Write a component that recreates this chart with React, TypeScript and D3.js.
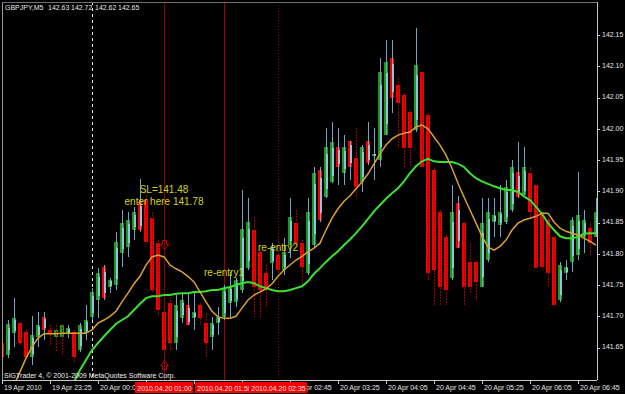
import React from 'react';
import * as d3 from 'd3';

// GBPJPY M5 bars, 19 Apr 2010 22:45 .. 20 Apr 2010 07:00
const opens = [
  141.657, 141.638, 141.673, 141.689, 141.675, 141.635, 141.667, 141.678, 141.678, 141.678,
  141.686, 141.672, 141.675, 141.646, 141.673, 141.699, 141.726, 141.729, 141.747, 141.750,
  141.801, 141.811, 141.838, 141.838, 141.886, 141.857, 141.817, 141.707, 141.721, 141.657,
  141.697, 141.686, 141.697, 141.718, 141.689, 141.667, 141.689, 141.699, 141.721, 141.723,
  141.742, 141.777, 141.838, 141.803, 141.769, 141.785, 141.798, 141.774, 141.814, 141.849,
  141.817, 141.769, 141.814, 141.854, 141.891, 141.915, 141.939, 141.929, 141.939, 141.953,
  141.915, 141.945, 141.956, 141.950, 141.990, 142.049, 142.070, 142.054, 142.027, 141.998,
  142.091, 142.022, 141.934, 141.867, 141.827, 141.761, 141.809, 141.849, 141.787, 141.787,
  141.747, 141.790, 141.851, 141.846, 141.851, 141.870, 141.891, 141.894, 141.929, 141.910,
  141.862, 141.854, 141.827, 141.726, 141.769, 141.787, 141.798, 141.827, 141.841, 141.827,
];
const highs = [
  141.662, 141.694, 141.729, 141.691, 141.678, 141.700, 141.707, 141.707, 141.686, 141.686,
  141.688, 141.686, 141.678, 141.689, 141.718, 141.745, 141.777, 141.782, 141.761, 141.835,
  141.870, 141.867, 141.875, 141.920, 141.894, 141.867, 141.822, 141.726, 141.731, 141.734,
  141.737, 141.737, 141.737, 141.721, 141.705, 141.699, 141.715, 141.750, 141.771, 141.761,
  141.902, 141.889, 141.859, 141.806, 141.782, 141.817, 141.825, 141.825, 141.889, 141.870,
  141.822, 141.889, 141.939, 141.939, 142.001, 142.011, 142.001, 141.990, 141.980, 142.001,
  141.974, 142.011, 142.001, 142.113, 142.142, 142.142, 142.081, 142.057, 142.030, 142.161,
  142.091, 142.025, 141.937, 141.870, 141.830, 141.910, 141.892, 141.851, 141.817, 141.790,
  141.889, 141.889, 141.889, 141.910, 141.918, 141.950, 141.979, 141.971, 141.939, 141.910,
  141.865, 141.857, 141.827, 141.787, 141.790, 141.859, 141.931, 141.870, 141.849, 141.889,
];
const lows = [
  141.627, 141.633, 141.651, 141.654, 141.630, 141.622, 141.651, 141.662, 141.654, 141.643,
  141.638, 141.665, 141.627, 141.643, 141.662, 141.694, 141.697, 141.726, 141.737, 141.742,
  141.779, 141.795, 141.822, 141.835, 141.816, 141.739, 141.700, 141.620, 141.646, 141.646,
  141.689, 141.686, 141.678, 141.686, 141.635, 141.646, 141.670, 141.694, 141.699, 141.715,
  141.737, 141.774, 141.699, 141.699, 141.715, 141.758, 141.769, 141.766, 141.793, 141.812,
  141.750, 141.766, 141.809, 141.851, 141.889, 141.913, 141.910, 141.910, 141.918, 141.889,
  141.899, 141.942, 141.918, 141.939, 141.990, 142.025, 141.969, 141.939, 141.939, 141.995,
  141.937, 141.758, 141.718, 141.718, 141.718, 141.758, 141.809, 141.718, 141.737, 141.726,
  141.747, 141.787, 141.827, 141.827, 141.848, 141.867, 141.889, 141.894, 141.857, 141.777,
  141.777, 141.747, 141.718, 141.723, 141.758, 141.771, 141.790, 141.801, 141.798, 141.827,
];
const closes = [
  141.635, 141.688, 141.697, 141.657, 141.635, 141.670, 141.686, 141.699, 141.672, 141.667,
  141.667, 141.681, 141.635, 141.686, 141.694, 141.739, 141.769, 141.779, 141.758, 141.819,
  141.849, 141.854, 141.867, 141.883, 141.819, 141.742, 141.710, 141.646, 141.657, 141.718,
  141.726, 141.718, 141.707, 141.697, 141.657, 141.689, 141.699, 141.745, 141.747, 141.758,
  141.840, 141.851, 141.747, 141.742, 141.747, 141.811, 141.774, 141.803, 141.859, 141.817,
  141.779, 141.867, 141.929, 141.934, 141.971, 141.979, 141.971, 141.971, 141.980, 141.907,
  141.971, 141.980, 141.960, 142.091, 142.107, 142.113, 142.041, 141.969, 141.969, 142.102,
  141.939, 141.769, 141.774, 141.747, 141.742, 141.867, 141.881, 141.747, 141.747, 141.755,
  141.849, 141.867, 141.862, 141.867, 141.907, 141.939, 141.931, 141.939, 141.867, 141.777,
  141.779, 141.769, 141.718, 141.782, 141.779, 141.854, 141.862, 141.854, 141.817, 141.867,
];
// Heiken Ashi colour per bar: g = up, r = down
const haColors = [
  'r','g','g','r','r','g','g','r','r','g',
  'g','g','r','g','g','g','g','r','g','g',
  'g','g','g','r','r','r','r','r','r','g',
  'g','r','g','r','r','g','g','g','g','g',
  'g','g','r','r','r','g','r','g','g','r',
  'r','g','g','r','g','g','r','g','r','r',
  'g','r','g','g','g','r','r','r','r','g',
  'r','r','r','r','r','g','r','r','r','r',
  'g','g','g','g','g','g','r','g','r','r',
  'r','r','r','g','g','g','g','g','r','g',
];
const maFast: (number | null)[] = [
  null, null, 141.590, 141.611, 141.633, 141.651, 141.665, 141.672, 141.672, 141.672,
  141.673, 141.673, 141.673, 141.673, 141.673, 141.678, 141.689, 141.694, 141.700, 141.708,
  141.723, 141.737, 141.752, 141.764, 141.782, 141.795, 141.798, 141.795, 141.782, 141.776,
  141.771, 141.764, 141.755, 141.739, 141.723, 141.708, 141.699, 141.697, 141.697, 141.700,
  141.713, 141.726, 141.734, 141.739, 141.744, 141.752, 141.764, 141.774, 141.782, 141.790,
  141.796, 141.803, 141.809, 141.817, 141.838, 141.857, 141.872, 141.884, 141.893, 141.904,
  141.915, 141.928, 141.944, 141.960, 141.974, 141.984, 141.990, 141.993, 141.995, 142.003,
  142.006, 142.000, 141.987, 141.974, 141.958, 141.937, 141.913, 141.891, 141.870, 141.849,
  141.828, 141.811, 141.806, 141.812, 141.822, 141.838, 141.849, 141.854, 141.857, 141.860,
  141.865, 141.865, 141.851, 141.841, 141.836, 141.833, 141.830, 141.825, 141.820, 141.814,
];
const maSlow: (number | null)[] = [
  null, null, null, null, null, null, null, null, null, null,
  null, 141.579, 141.595, 141.614, 141.630, 141.646, 141.657, 141.668, 141.678, 141.688,
  141.694, 141.700, 141.710, 141.720, 141.729, 141.732, 141.732, 141.734, 141.734, 141.736,
  141.737, 141.737, 141.739, 141.739, 141.740, 141.742, 141.742, 141.745, 141.747, 141.750,
  141.753, 141.755, 141.753, 141.748, 141.745, 141.742, 141.740, 141.740, 141.742, 141.745,
  141.748, 141.756, 141.768, 141.777, 141.787, 141.796, 141.804, 141.814, 141.823, 141.833,
  141.844, 141.856, 141.868, 141.878, 141.888, 141.897, 141.905, 141.916, 141.929, 141.940,
  141.948, 141.952, 141.948, 141.947, 141.947, 141.947, 141.944, 141.939, 141.929, 141.921,
  141.916, 141.912, 141.908, 141.905, 141.902, 141.902, 141.899, 141.892, 141.886, 141.875,
  141.864, 141.849, 141.838, 141.828, 141.825, 141.825, 141.827, 141.832, 141.833, 141.833,
];
const priceTicks = [141.65, 141.70, 141.75, 141.80, 141.85, 141.90, 141.95, 142.00, 142.05, 142.10, 142.15];
const timeTickBars = [0, 8, 16, 24, 32, 40, 48, 56, 64, 72, 80, 88, 96];
const timeTickLabels = [
  '19 Apr 2010', '19 Apr 23:25', '20 Apr 00:05', '', '', '',
  '20 Apr 02:45', '20 Apr 03:25', '20 Apr 04:05', '20 Apr 04:45', '20 Apr 05:25', '20 Apr 06:05', '20 Apr 06:45',
];
const markerBars = [27, 37, 46];
const markerLabels = ['2010.04.20 01:00', '2010.04.20 01:50', '2010.04.20 02:35'];
const daySeparatorBar = 15;
const noteTexts = ['SL=141.48', 'enter here 141.78', 're-entry1', 're-entry2'];
const noteBars = [27, 27, 37, 46];
const notePrices = [141.902, 141.883, 141.768, 141.808];
const arrowBar = 27;
const arrowDownPrice = 141.815;
const arrowUpPrice = 141.621;
const titleParts = ['GBPJPY,M5', '142.63', '142.72', '142.62', '142.65'];

const FONT = '"Liberation Sans", Arial, sans-serif';

export default function App() {
  const W = 625, H = 394;
  const L = 2, R = 597, T = 2, B = 380;
  const x = d3.scaleLinear().domain([0, 99]).range([2, 596]);
  const y = d3.scaleLinear().domain([141.598, 142.203]).range([B, T]);

  const lineGen = d3.line<number | null>()
    .defined((d) => d != null)
    .x((_, i) => x(i))
    .y((d) => y(d as number));

  const markerStyles = [
    { stroke: '#8c0000', dash: undefined },
    { stroke: '#a00000', dash: undefined },
    { stroke: '#c80000', dash: '1,2' },
  ];

  return (
    <svg width={W} height={H} style={{ position: 'absolute', left: 0, top: 0, background: '#000' }}
      fontFamily={FONT}>
      <defs>
        <clipPath id="plot"><rect x={L + 1} y={T + 1} width={R - L - 1} height={B - T - 1} /></clipPath>
      </defs>
      <rect x={0} y={0} width={W} height={H} fill="#000" />
      {/* frame */}
      <line x1={L + 0.5} x2={L + 0.5} y1={T} y2={B} stroke="#9a9a9a" />
      <line x1={L} x2={R} y1={T + 0.5} y2={T + 0.5} stroke="#707070" />

      <g clipPath="url(#plot)">
        {/* day separator */}
        <line x1={x(daySeparatorBar) + 0.5} x2={x(daySeparatorBar) + 0.5} y1={T} y2={B}
          stroke="#e8e8e8" strokeDasharray="3,3" />
        {/* vertical markers */}
        {markerBars.map((b, k) => (
          <line key={k} x1={x(b) + 0.5} x2={x(b) + 0.5} y1={T} y2={B}
            stroke={markerStyles[k].stroke} strokeDasharray={markerStyles[k].dash} />
        ))}

        {/* candles */}
        <g shapeRendering="crispEdges">
          {opens.map((o, i) => {
            const c = closes[i], h = highs[i], l = lows[i];
            const bull = c > o;
            const cx = x(i);
            const yTop = y(Math.max(o, c));
            const yBot = y(Math.min(o, c));
            const bh = Math.max(1, yBot - yTop);
            return (
              <g key={i}>
                <rect x={cx - 2} y={yTop} width={4} height={bh}
                  fill={haColors[i] === 'g' ? '#1f961f' : '#f00000'} />
                <line x1={cx + 0.5} x2={cx + 0.5} y1={y(h)} y2={y(l)}
                  stroke={bull ? '#6ea6c4' : '#a00000'} strokeWidth={1}
                  strokeDasharray={bull ? undefined : '2,1'} />
                {bull && (
                  <rect x={cx - 0.5} y={yTop + bh * 0.15} width={2} height={bh * 0.7} fill="#8cc6df" />
                )}
              </g>
            );
          })}
        </g>

        {/* moving averages */}
        <path d={lineGen(maSlow) || ''} fill="none" stroke="#3ce030" strokeWidth={2} />
        <path d={lineGen(maFast) || ''} fill="none" stroke="#daa030" strokeWidth={1.5} />

        {/* arrows */}
        {(() => {
          const ax = x(arrowBar) + 0.5;
          const yd = y(arrowDownPrice) - 4;
          const yu = y(arrowUpPrice) + 4;
          return (
            <g fill="none" stroke="#d00000" strokeWidth={1}>
              <path d={`M${ax - 2},${yd} L${ax + 2},${yd} L${ax + 2},${yd + 4} L${ax + 4},${yd + 4} L${ax},${yd + 9} L${ax - 4},${yd + 4} L${ax - 2},${yd + 4} Z`} />
              <path d={`M${ax - 2},${yu} L${ax + 2},${yu} L${ax + 2},${yu - 4} L${ax + 4},${yu - 4} L${ax},${yu - 9} L${ax - 4},${yu - 4} L${ax - 2},${yu - 4} Z`} />
            </g>
          );
        })()}

        {/* notes */}
        {noteTexts.map((t, k) => (
          <text key={k} x={x(noteBars[k])} y={y(notePrices[k])} fill="#d2d21e" fontSize={10}
            textAnchor="middle" dominantBaseline="middle">{t}</text>
        ))}
      </g>

      {/* title */}
      <text y={10} fontSize={7} fill="#e6e6e6">
        {titleParts.map((t, k) => (
          <tspan key={k} x={[5, 48, 71, 95, 118][k]}>{t}</tspan>
        ))}
      </text>
      <text x={4} y={378} fontSize={7} fill="#f0f0f0">SIGTrader 4, © 2001-2009 MetaQuotes Software Corp.</text>

      {/* price axis */}
      <line x1={R + 0.5} x2={R + 0.5} y1={T} y2={B} stroke="#c8c8c8" />
      {priceTicks.map((v) => (
        <g key={v}>
          <line x1={R} x2={R + 3} y1={Math.round(y(v)) + 0.5} y2={Math.round(y(v)) + 0.5} stroke="#c8c8c8" />
          <text x={602} y={y(v)} fontSize={7} fill="#e6e6e6" dominantBaseline="middle">{v.toFixed(2)}</text>
        </g>
      ))}

      {/* time axis */}
      <line x1={L} x2={R} y1={B + 0.5} y2={B + 0.5} stroke="#c8c8c8" />
      {timeTickBars.map((b, k) => (
        <g key={b}>
          <line x1={x(b) + 0.5} x2={x(b) + 0.5} y1={B} y2={B + 4} stroke="#c8c8c8" />
          {timeTickLabels[k] && (
            <text x={x(b) + 2} y={390} fontSize={7} fill="#e6e6e6">{timeTickLabels[k]}</text>
          )}
        </g>
      ))}
      {markerBars.map((b, k) => (
        <g key={'m' + k}>
          <rect x={x(b) - 29} y={382} width={58} height={11} fill="#f00000" />
          <text x={x(b) + 0.5} y={390.5} fontSize={7} fill="#ffe4e4" textAnchor="middle">{markerLabels[k]}</text>
        </g>
      ))}
    </svg>
  );
}
